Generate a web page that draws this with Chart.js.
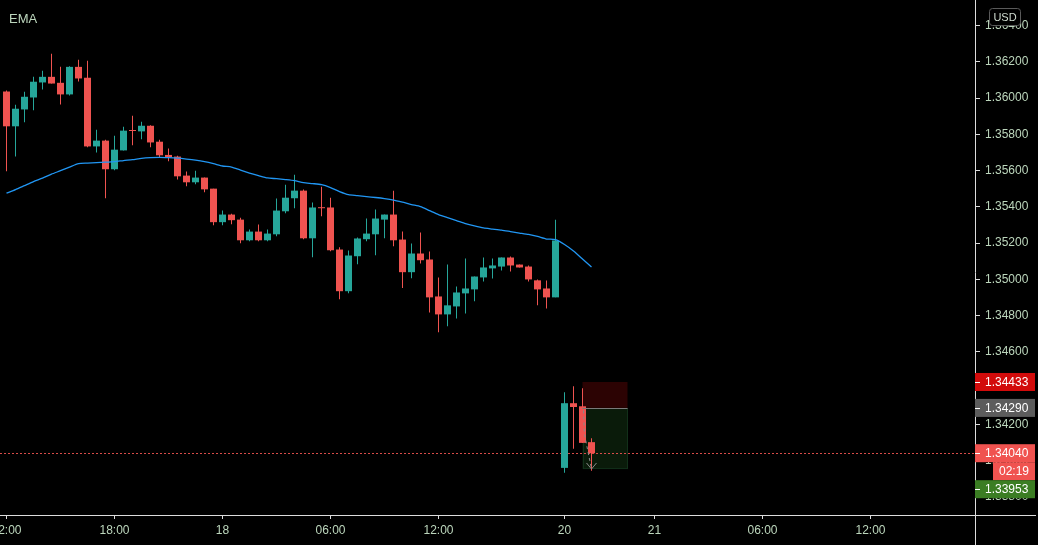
<!DOCTYPE html>
<html>
<head>
<meta charset="utf-8">
<script src="https://cdn.jsdelivr.net/npm/chart.js@4.4.1/dist/chart.umd.min.js"></script>
<style>
  html, body { margin: 0; padding: 0; background: #000; }
  #wrap { width: 1038px; height: 545px; }
</style>
</head>
<body>
<div id="wrap"><canvas id="chart" width="1038" height="545" style="width:1038px;height:545px"></canvas></div>
<script>
// 30 minute candles, slot 0 = 12:00 on the 17th
const opens = [1.36036,1.35844,1.35937,1.36003,1.36086,1.36117,1.36084,1.36020,1.36172,1.36112,
  1.35733,1.35765,1.35607,1.35711,1.35821,1.35816,1.35847,1.35759,1.35686,1.35677,
  1.35572,1.35535,1.35561,1.35500,1.35315,1.35357,1.35329,1.35215,1.35263,1.35215,
  1.35248,1.35375,1.35447,1.35489,1.35226,1.35396,1.35396,1.35164,1.34934,1.35127,
  1.35221,1.35248,1.35329,1.35357,1.35219,1.35039,1.35142,1.35109,1.34905,1.34806,
  1.34850,1.34922,1.34944,1.35010,1.35060,1.35070,1.35120,1.35081,1.35070,1.34994,
  1.34949,1.34900,1.33959,1.34316,1.34299,1.34101];
const highs = [1.36042,1.35963,1.36035,1.36117,1.36150,1.36244,1.36172,1.36175,1.36211,1.36206,
  1.35825,1.35770,1.35792,1.35842,1.35902,1.35869,1.35850,1.35770,1.35721,1.35682,
  1.35594,1.35599,1.35562,1.35500,1.35379,1.35362,1.35340,1.35274,1.35302,1.35274,
  1.35445,1.35522,1.35577,1.35495,1.35423,1.35511,1.35450,1.35177,1.35159,1.35230,
  1.35335,1.35385,1.35357,1.35489,1.35263,1.35197,1.35258,1.35153,1.35010,1.35081,
  1.34960,1.35115,1.35015,1.35120,1.35115,1.35120,1.35126,1.35081,1.35076,1.34999,
  1.34993,1.35329,1.34376,1.34409,1.34398,1.34123];
const lows = [1.35596,1.35678,1.35866,1.35932,1.36047,1.36080,1.35965,1.36014,1.36091,1.35728,
  1.35700,1.35447,1.35601,1.35711,1.35739,1.35772,1.35728,1.35673,1.35651,1.35551,
  1.35513,1.35524,1.35480,1.35298,1.35298,1.35304,1.35199,1.35210,1.35210,1.35210,
  1.35237,1.35364,1.35392,1.35221,1.35122,1.35348,1.35155,1.34890,1.34923,1.35083,
  1.35210,1.35133,1.35226,1.35182,1.34951,1.35006,1.35087,1.34817,1.34707,1.34740,
  1.34784,1.34811,1.34878,1.34988,1.35004,1.35048,1.35043,1.35065,1.34988,1.34856,
  1.34839,1.34900,1.33932,1.34064,1.34097,1.33943];
const closes = [1.35844,1.35941,1.36007,1.36090,1.36117,1.36080,1.36020,1.36172,1.36108,1.35733,
  1.35765,1.35607,1.35715,1.35820,1.35818,1.35847,1.35755,1.35684,1.35673,1.35568,
  1.35535,1.35561,1.35496,1.35315,1.35357,1.35326,1.35215,1.35263,1.35215,1.35252,
  1.35379,1.35450,1.35489,1.35226,1.35396,1.35392,1.35160,1.34934,1.35131,1.35225,
  1.35252,1.35335,1.35357,1.35215,1.35039,1.35142,1.35105,1.34900,1.34806,1.34856,
  1.34927,1.34949,1.35015,1.35065,1.35076,1.35120,1.35076,1.35065,1.34999,1.34944,
  1.34900,1.35214,1.34316,1.34295,1.34097,1.34040];
const ema = [1.35475,1.35495,1.35517,1.35539,1.35558,1.35580,1.35599,1.35619,1.35638,1.35641,
  1.35644,1.35646,1.35649,1.35655,1.35660,1.35667,1.35671,1.35673,1.35671,1.35668,
  1.35663,1.35657,1.35649,1.35638,1.35625,1.35619,1.35602,1.35586,1.35572,1.35559,
  1.35555,1.35550,1.35544,1.35533,1.35528,1.35522,1.35506,1.35484,1.35467,1.35462,
  1.35456,1.35451,1.35445,1.35437,1.35425,1.35412,1.35401,1.35379,1.35357,1.35340,
  1.35324,1.35307,1.35294,1.35283,1.35277,1.35271,1.35263,1.35255,1.35247,1.35236,
  1.35222,1.35219,1.35192,1.35156,1.35112,1.35067];

const xTickSlots = [0, 12, 24, 36, 48, 62, 72, 84, 96];
const xTickLabels = ['12:00', '18:00', '18', '06:00', '12:00', '20', '21', '06:00', '12:00'];
const yTicks = [1.338, 1.340, 1.342, 1.344, 1.346, 1.348, 1.350, 1.352, 1.354, 1.356, 1.358, 1.360, 1.362, 1.364];

// right axis price tags
const tagPrices = [1.34433, 1.34290, 1.34040, 1.33953];
const tagColors = ['#d20b0b', '#5c5c5c', '#f05350', '#3b7d23'];
const countdown = '02:19';

// short position drawing
const posSlots = [64, 69];
const posStop = 1.34433, posEntry = 1.34290, posTarget = 1.33953;
const lastPrice = 1.34040;

const UP = '#26a69a', DOWN = '#ef5350';
const TXT = '#bcd6bc';
const FONT = '"Liberation Sans", Arial, sans-serif';

const idx = opens.map((_, i) => i);
const colors = idx.map(i => closes[i] > opens[i] ? UP : DOWN);

const overlay = {
  id: 'overlay',
  beforeDatasetsDraw(chart) {
    const { ctx, scales: { x, y }, chartArea: a } = chart;
    const x0 = x.getPixelForValue(posSlots[0]), x1 = x.getPixelForValue(posSlots[1]);
    const yS = y.getPixelForValue(posStop), yE = y.getPixelForValue(posEntry), yT = y.getPixelForValue(posTarget);
    ctx.save();
    ctx.fillStyle = '#2c0303';
    ctx.fillRect(x0, yS, x1 - x0, yE - yS);
    ctx.fillStyle = '#0a1b0a';
    ctx.fillRect(x0, yE, x1 - x0, yT - yE);
    ctx.strokeStyle = '#12301a';
    ctx.lineWidth = 1;
    ctx.strokeRect(Math.round(x0) + 0.5, Math.round(yE) + 0.5, x1 - x0 - 1, yT - yE - 1);

    // last price dotted line
    const yl = Math.round(y.getPixelForValue(lastPrice)) + 0.5;
    ctx.strokeStyle = 'rgba(240,83,80,0.9)';
    ctx.setLineDash([2, 2]);
    ctx.beginPath();
    ctx.moveTo(a.left, yl);
    ctx.lineTo(a.right, yl);
    ctx.stroke();
    ctx.restore();
  },
  afterDatasetsDraw(chart) {
    const { ctx, scales: { x, y } } = chart;
    const x0 = x.getPixelForValue(posSlots[0]), x1 = x.getPixelForValue(posSlots[1]);
    const yE = Math.round(y.getPixelForValue(posEntry)) + 0.5;
    ctx.save();
    ctx.strokeStyle = '#7a7a7a';
    ctx.lineWidth = 1;
    ctx.beginPath();
    ctx.moveTo(x0, yE);
    ctx.lineTo(x1, yE);
    ctx.stroke();
    // trade path arrow
    const ax = x.getPixelForValue(posSlots[0] + 1), ay = y.getPixelForValue(posTarget);
    ctx.strokeStyle = '#8a8a8a';
    ctx.setLineDash([3, 3]);
    ctx.beginPath();
    ctx.moveTo(x0 + 1, yE + 2);
    ctx.lineTo(x0 + 2, yE + 26);
    ctx.lineTo(ax, ay);
    ctx.stroke();
    ctx.setLineDash([]);
    ctx.beginPath();
    ctx.moveTo(ax - 5, ay - 6);
    ctx.lineTo(ax, ay);
    ctx.lineTo(ax + 5, ay - 6);
    ctx.stroke();
    ctx.restore();
  },
  afterDraw(chart) {
    const { ctx, scales: { y }, chartArea: a, width, height } = chart;
    ctx.save();
    // axis lines
    ctx.strokeStyle = '#dcdcdc';
    ctx.lineWidth = 1;
    const ax = Math.round(a.right) + 0.5, ay = Math.round(a.bottom) + 0.5;
    ctx.beginPath();
    ctx.moveTo(ax, 0); ctx.lineTo(ax, height);
    ctx.moveTo(0, ay); ctx.lineTo(width - 2, ay);
    ctx.stroke();

    // price tags
    ctx.font = '12px ' + FONT;
    ctx.textBaseline = 'middle';
    const items = [];
    tagPrices.forEach((p, k) => {
      items.push({ y: y.getPixelForValue(p), text: p.toFixed(5), bg: tagColors[k], left: a.right, w: 60, mark: true });
      if (p === lastPrice) {
        items.push({ y: y.getPixelForValue(p) + 18, text: countdown, bg: tagColors[k], left: a.right + 18, w: 42, mark: false, center: true });
      }
    });
    let prevBottom = -Infinity;
    items.forEach(t => {
      let top = Math.max(t.y - 9, prevBottom);
      prevBottom = top + 18;
      ctx.fillStyle = t.bg;
      ctx.fillRect(t.left, top, t.w, 18);
      ctx.fillStyle = '#ffffff';
      if (t.center) {
        ctx.textAlign = 'center';
        ctx.fillText(t.text, t.left + t.w / 2, top + 9.5);
      } else {
        ctx.textAlign = 'left';
        ctx.fillText(t.text, a.right + 10, top + 9.5);
      }
      if (t.mark) {
        ctx.strokeStyle = '#ffffff';
        ctx.beginPath();
        ctx.moveTo(a.right, Math.round(top + 9) + 0.5);
        ctx.lineTo(a.right + 5, Math.round(top + 9) + 0.5);
        ctx.stroke();
      }
    });

    // currency box
    ctx.fillStyle = '#000';
    ctx.strokeStyle = '#5a5a5a';
    ctx.beginPath();
    ctx.roundRect(989.5, 8.5, 31, 17, 3);
    ctx.fill();
    ctx.stroke();
    ctx.fillStyle = '#d0dcd0';
    ctx.font = '11px ' + FONT;
    ctx.textAlign = 'center';
    ctx.fillText('USD', 1005, 17.5);

    // indicator label
    ctx.fillStyle = TXT;
    ctx.font = '13px ' + FONT;
    ctx.textAlign = 'left';
    ctx.fillText('EMA', 9, 19.5);
    ctx.restore();
  }
};

new Chart(document.getElementById('chart'), {
  type: 'bar',
  data: {
    datasets: [
      {
        type: 'line',
        data: idx.map(i => ({ x: i, y: ema[i] })),
        borderColor: '#2196f3',
        borderWidth: 1.3,
        pointRadius: 0,
        tension: 0.2,
        order: 0
      },
      {
        data: idx.map(i => ({ x: i, y: [opens[i], closes[i]] })),
        backgroundColor: colors,
        borderWidth: 0,
        maxBarThickness: 7,
        minBarLength: 1,
        inflateAmount: 0,
        grouped: false,
        barPercentage: 1,
        categoryPercentage: 1,
        order: 1
      },
      {
        data: idx.map(i => ({ x: i, y: [lows[i], highs[i]] })),
        backgroundColor: colors,
        borderWidth: 0,
        maxBarThickness: 1,
        inflateAmount: 0,
        grouped: false,
        barPercentage: 1,
        categoryPercentage: 1,
        order: 2
      }
    ]
  },
  options: {
    responsive: false,
    animation: false,
    layout: { padding: 0 },
    plugins: { legend: { display: false }, tooltip: { enabled: false } },
    scales: {
      x: {
        type: 'linear',
        min: -6.5 / 9,
        max: (975 - 6.5) / 9,
        offset: false,
        grid: { display: true, offset: false, drawOnChartArea: false, drawTicks: true, tickLength: 4, color: '#dcdcdc' },
        border: { display: false },
        ticks: {
          color: TXT,
          font: { family: FONT, size: 12 },
          padding: 4,
          maxRotation: 0,
          autoSkip: false,
          callback: v => xTickLabels[xTickSlots.indexOf(v)]
        },
        afterBuildTicks: s => { s.ticks = xTickSlots.map(v => ({ value: v })); },
        afterFit: s => { s.height = 30; s.paddingLeft = 0; s.paddingRight = 0; }
      },
      y: {
        type: 'linear',
        position: 'right',
        min: 1.33699,
        max: 1.36541,
        grid: { display: true, drawOnChartArea: false, drawTicks: true, tickLength: 5, color: '#dcdcdc' },
        border: { display: false },
        ticks: {
          color: TXT,
          font: { family: FONT, size: 12 },
          padding: 5,
          callback: v => v.toFixed(5)
        },
        afterBuildTicks: s => { s.ticks = yTicks.map(v => ({ value: v })); },
        afterFit: s => { s.width = 63; s.paddingTop = 0; s.paddingBottom = 0; }
      }
    }
  },
  plugins: [overlay]
});
</script>
</body>
</html>
